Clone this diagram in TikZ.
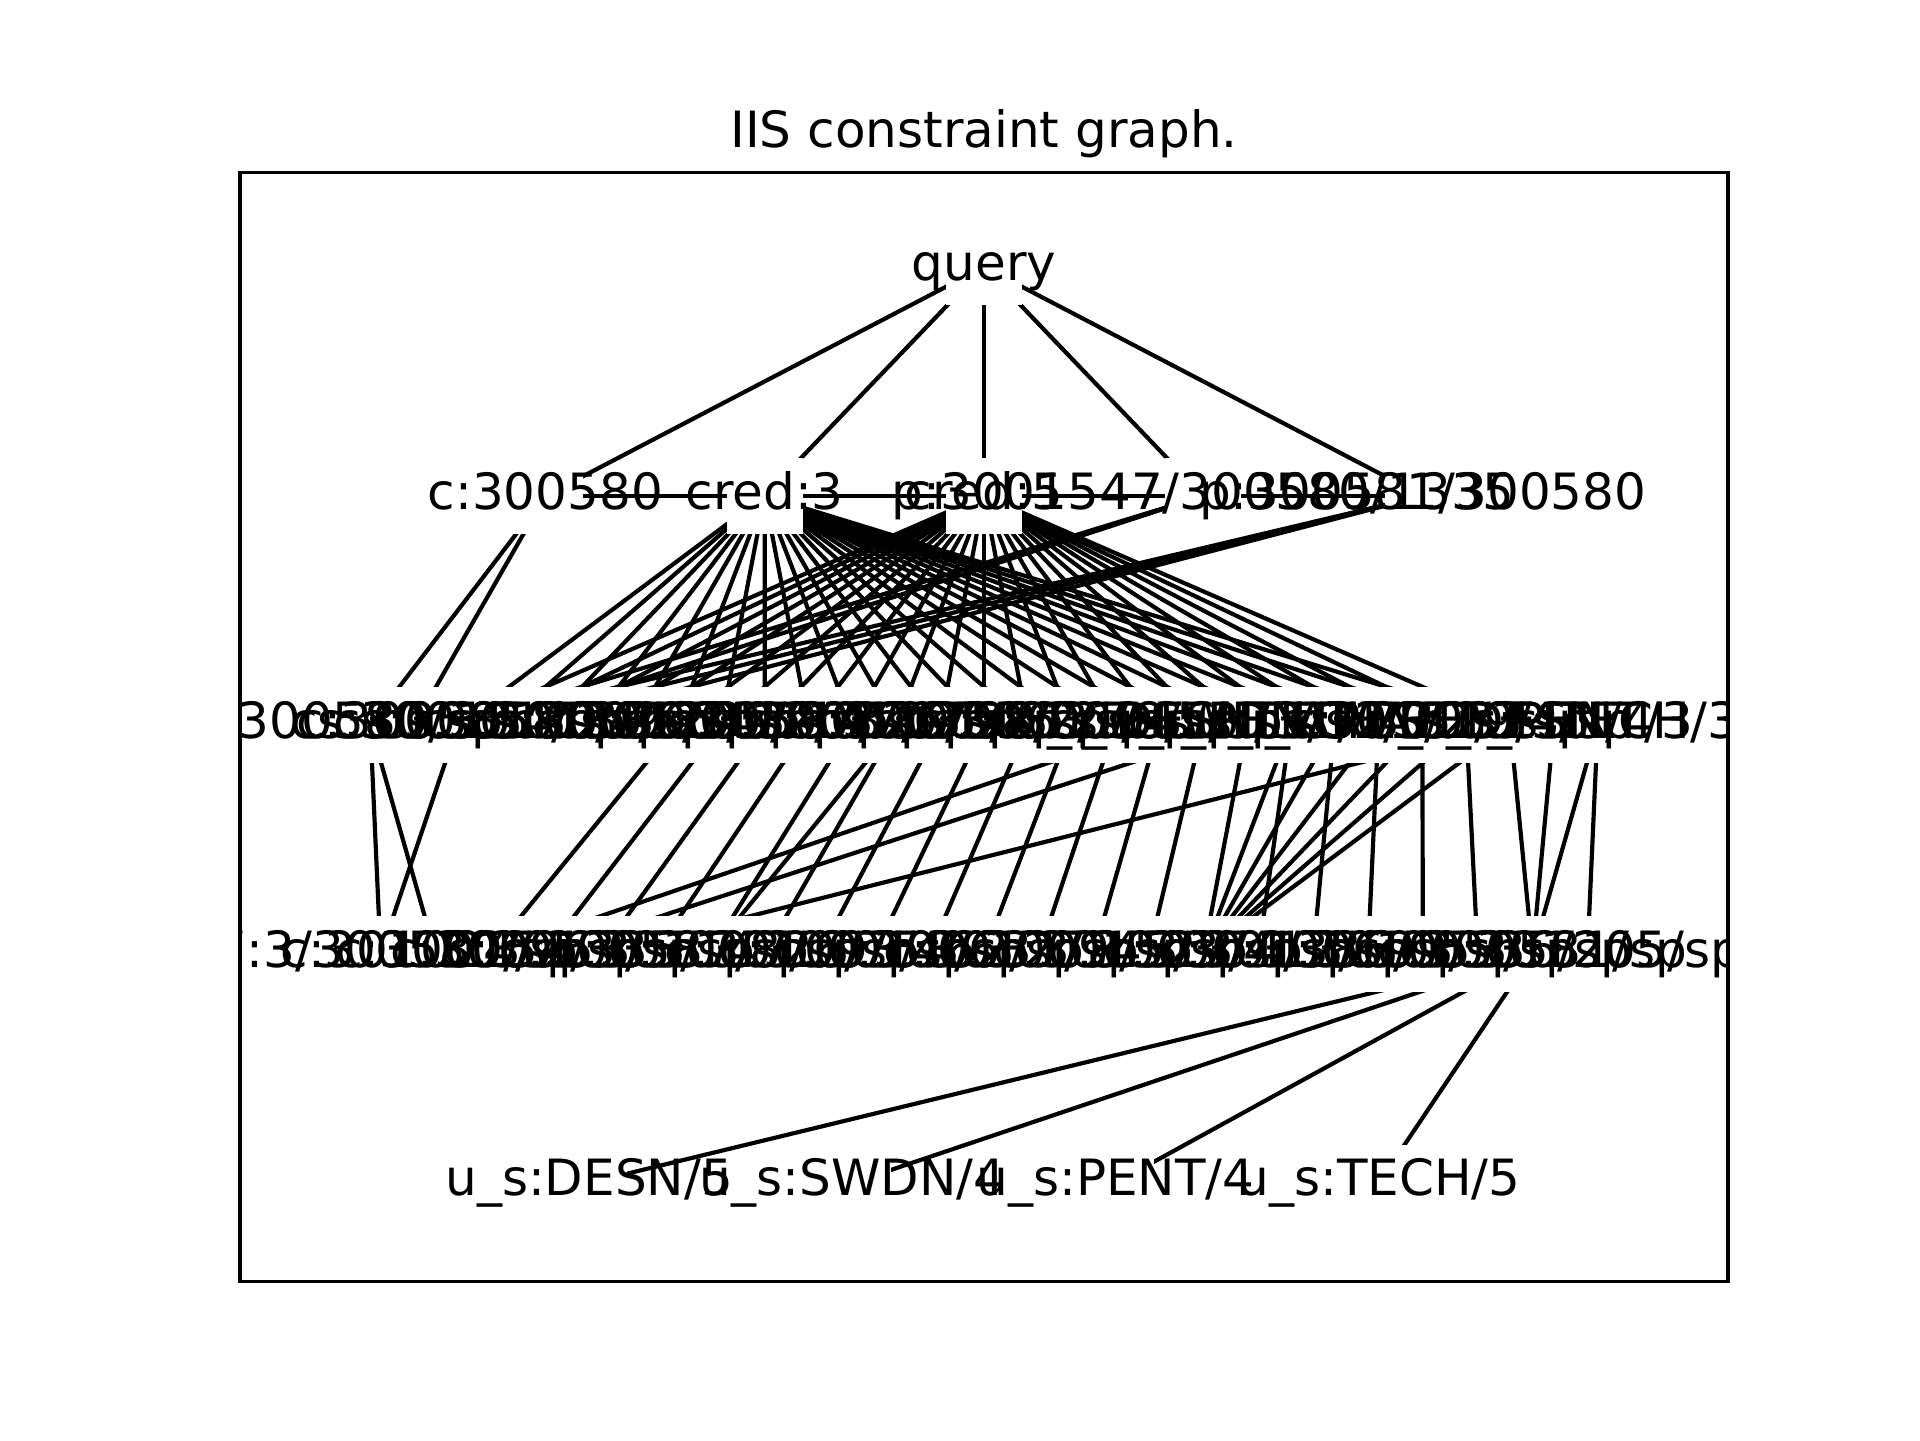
\documentclass[tikz,border=0pt]{standalone}
\usepackage{fontspec}
\setmainfont{DejaVu Sans}
\usepackage{tikz}

\pgfdeclarelayer{edges}
\pgfdeclarelayer{boxes}
\pgfsetlayers{edges,boxes,main}

\begin{document}
\begin{tikzpicture}[x=0.293878pt,y=-0.293878pt]

      \useasboundingbox (0,0) rectangle (1568,1176);

      \node[anchor=base,inner sep=0pt,font=\fontsize{12}{14.4}\selectfont] (title) at (803.6,120.7) {IIS constraint graph.};
      \draw[line width=0.8pt] (196,141.1) rectangle (1411.2,1046.6);

      \begin{scope}
      \clip (196,141.1) rectangle (1411.2,1046.6);

      \begin{scope}[every node/.style={inner sep=0pt,text height=9.12pt,text depth=2.83pt,font=\fontsize{12}{14.4}\selectfont}]
        \node (0) at (803.6,218) {query};

        \node (1) at (445.3,405) {c:300580};
        \node (2) at (624.5,405) {cred:3};
        \node (3) at (803.6,405) {cred:5};
        \node (4) at (982.7,405) {p:3001547/300580/1335};
        \node (5) at (1161.9,405) {p:300581/300580};

        \node (6) at (302.4,592) {300580/sp};
        \node (7) at (338.2,592) {c:300581};
        \node (8) at (374.0,592) {cs:300154/sp};
        \node (9) at (409.8,592) {cs:300580/sp};
        \node (10) at (445.6,592) {cs:301024/sp};
        \node (11) at (481.4,592) {cs:301335/sp};
        \node (12) at (517.2,592) {cs:300963/sp};
        \node (13) at (553.0,592) {cs:301205/sp};
        \node (14) at (588.8,592) {cs:300412/sp};
        \node (15) at (624.6,592) {cs:300587/sp};
        \node (16) at (660.4,592) {cs:301147/sp};
        \node (17) at (696.2,592) {cs:300826/sp};
        \node (18) at (732.0,592) {cs:301093/sp};
        \node (19) at (767.8,592) {cs:300758/sp};
        \node (20) at (803.6,592) {cs:301462/sp};
        \node (21) at (839.4,592) {cs:300631/sp};
        \node (22) at (875.2,592) {cs:301278/sp};
        \node (23) at (911.0,592) {cs:300945/sp};
        \node (24) at (946.8,592) {u\_s:DESN/3};
        \node (25) at (982.6,592) {u\_s:SWDN/3};
        \node (26) at (1018.4,592) {u\_s:PENT/2};
        \node (27) at (1054.2,592) {u\_s:TECH/3};
        \node (28) at (1090.0,592) {u\_s:ARTS/2};
        \node (29) at (1125.8,592) {u\_s:MATH/3};
        \node (30) at (1161.6,592) {cs:301529/sp};
        \node (31) at (1197.4,592) {cs:300374/sp};
        \node (32) at (1233.2,592) {u\_s:DESN/4};
        \node (33) at (1269.0,592) {u\_s:PENT/3};
        \node (34) at (1304.8,592) {u\_s:TECH/3};

        \node (35) at (310.8,779) {17:3/300580/sp};
        \node (36) at (355.6,779) {c:301024/sp};
        \node (37) at (400.4,779) {c:300154/sp};
        \node (38) at (445.2,779) {c:300963/sp};
        \node (39) at (490.0,779) {c:301335/sp};
        \node (40) at (534.8,779) {c:300587/sp};
        \node (41) at (579.6,779) {c:301147/sp};
        \node (42) at (624.4,779) {c:300826/sp};
        \node (43) at (669.2,779) {c:301093/sp};
        \node (44) at (714.0,779) {c:300758/sp};
        \node (45) at (758.8,779) {c:301462/sp};
        \node (46) at (803.6,779) {c:300631/sp};
        \node (47) at (848.4,779) {c:301278/sp};
        \node (48) at (893.2,779) {c:300945/sp};
        \node (49) at (938.0,779) {c:301529/sp};
        \node (50) at (982.8,779) {c:300374/sp};
        \node (51) at (1027.6,779) {c:300412/sp};
        \node (52) at (1072.4,779) {c:301386/sp};
        \node (53) at (1117.2,779) {c:300699/sp};
        \node (54) at (1162.0,779) {c:301053/sp};
        \node (55) at (1206.8,779) {c:300536/sp};
        \node (56) at (1251.6,779) {c:300581/sp};
        \node (57) at (1296.4,779) {c:301205/sp};

        \node (58) at (481.1,966) {u\_s:DESN/5};
        \node (59) at (696.2,966) {u\_s:SWDN/4};
        \node (60) at (911.0,966) {u\_s:PENT/4};
        \node (61) at (1126.1,966) {u\_s:TECH/5};
      \end{scope}
      \end{scope}

      \begin{pgfonlayer}{boxes}
        \clip (196,141.1) rectangle (1411.2,1046.6);
        \foreach \n in {0,...,61}
          \node[fill=white,minimum size=18.3pt,inner sep=0pt] (b\n) at (\n.center) {};
      \end{pgfonlayer}

      \begin{pgfonlayer}{edges}
      \clip (196,141.1) rectangle (1411.2,1046.6);
      \begin{scope}[every edge/.style={draw,line width=1pt}]
        \foreach \n in {1,...,5}
          \path (0.center) edge (\n.center);

        \path (1.center) edge (2.center);
        \path (2.center) edge (3.center);
        \path (3.center) edge (4.center);
        \path (4.center) edge (5.center);

        \path (1.center) edge (6.center);
        \path (1.center) edge (7.center);
        \foreach \n in {8,...,32} {
          \path (2.center) edge (\n.center);
          \path (3.center) edge (\n.center);
        }
        \path (4.center) edge (8.center);
        \path (4.center) edge (9.center);
        \path (5.center) edge (8.center);
        \path (5.center) edge (9.center);
        \path (5.center) edge (10.center);

        \path (6.center) edge (35.center);
        \path (6.center) edge (36.center);
        \path (8.center) edge (35.center);
        \foreach \n [evaluate=\n as \m using int(\n+24)] in {13,...,25}
          \path (\n.center) edge (\m.center);
        \path (18.center) edge (41.center);
        \foreach \n in {26,...,32}
          \path (\n.center) edge (50.center);
        \path (27.center) edge (51.center);
        \path (28.center) edge (52.center);
        \path (29.center) edge (53.center);
        \path (30.center) edge (54.center);
        \path (31.center) edge (55.center);
        \path (32.center) edge (56.center);
        \path (33.center) edge (56.center);
        \path (34.center) edge (56.center);
        \path (34.center) edge (57.center);
        \path (24.center) edge (37.center);
        \path (26.center) edge (38.center);
        \path (32.center) edge (39.center);

        \foreach \n in {58,...,61}
          \path (56.center) edge (\n.center);
      \end{scope}
      \end{pgfonlayer}

    \end{tikzpicture}
\end{document}
